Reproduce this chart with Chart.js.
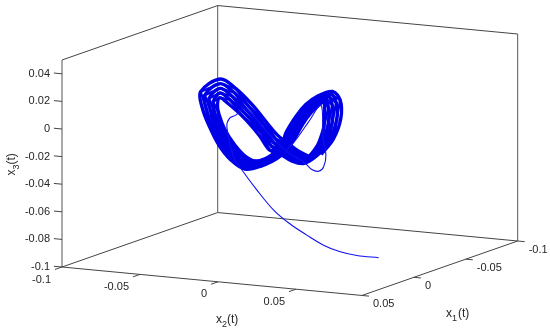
<!DOCTYPE html>
<html><head><meta charset="utf-8">
<style>html,body{margin:0;padding:0;background:#fff}canvas{display:block}</style>
<script src="https://cdn.jsdelivr.net/npm/chart.js@4"></script>
</head><body><canvas id="c" width="550" height="332"></canvas>
<script>
// Axis limits and ticks
const x1Limits = [-0.1, 0.05];
const x2Limits = [-0.1, 0.0923];
const x3Limits = [-0.1, 0.05];
const x1Ticks = [-0.1, -0.05, 0, 0.05];
const x2Ticks = [-0.1, -0.05, 0, 0.05];
const x3Ticks = [-0.1, -0.08, -0.06, -0.04, -0.02, 0, 0.02, 0.04];
const x1TickLabels = ['-0.1', '-0.05', '0', '0.05'];
const x2TickLabels = ['-0.1', '-0.05', '0', '0.05'];
const x3TickLabels = ['-0.1', '-0.08', '-0.06', '-0.04', '-0.02', '0', '0.02', '0.04'];

// Values, in units of 1e-4. A single view gives only two
// coordinates, so depth x1 is taken as one plane.
const UNIT = 1e-4;
const x1Plane = 0;
const transientX2 = [697,558,451,344,237,130,24,-83,-179,-233,-276,-259,-218,-158,-19,98,227,269,312,344,359,340,327,248,173,109];
const transientX3 = [-882,-881,-866,-829,-768,-699,-609,-476,-341,-250,-37,25,53,108,-46,-167,-250,-289,-297,-262,-176,-45,183,54,-74,-166];
const attractorX2 = [
 245,179,114,50,-24,-112,-218,-318,-444,-434,-391,-327,-252,-160,-56,58,137,211,265,321,345,350,347,313,285,
 238,168,101,37,-35,-127,-231,-319,-417,-407,-366,-302,-227,-142,-43,62,128,200,256,317,359,375,374,336,296,
 232,157,88,24,-46,-142,-244,-320,-390,-380,-340,-276,-201,-124,-30,66,120,190,248,312,373,400,400,360,306,
 226,147,75,11,-56,-157,-257,-321,-363,-354,-314,-250,-175,-106,-17,71,111,179,239,308,387,425,428,384,317,
 219,136,62,-2,-67,-172,-270,-322,-336,-327,-289,-225,-150,-88,-4,75,102,168,230,304,401,450,455,407,328
];
const attractorX3 = [
 -194,-163,-114,-65,25,138,245,304,198,85,-40,-176,-274,-332,-299,-222,-117,34,124,190,217,147,36,-92,-147,
 -208,-182,-135,-93,-1,115,217,270,177,76,-45,-173,-267,-315,-280,-202,-98,47,137,204,236,169,53,-82,-154,
 -222,-200,-156,-121,-28,91,189,236,156,67,-50,-170,-259,-299,-261,-182,-80,60,151,218,254,191,70,-72,-160,
 -235,-220,-176,-149,-54,68,161,202,134,58,-54,-167,-251,-283,-242,-163,-62,74,165,232,272,213,88,-63,-167,
 -249,-239,-197,-177,-80,45,133,168,113,49,-59,-164,-244,-266,-223,-143,-43,87,178,246,291,235,105,-53,-174
];
// Turns that wander across the band between the main ones
const crossingX2 = [
 245,168,114,37,-24,-127,-218,-319,-444,-407,-391,-302,-252,-142,-56,62,137,200,265,317,345,375,347,336,285,
 238,157,101,24,-35,-142,-231,-320,-417,-380,-366,-276,-227,-124,-43,66,128,190,256,312,359,400,374,360,296,
 232,147,88,11,-46,-157,-244,-321,-390,-354,-340,-250,-201,-106,-30,71,120,179,248,308,373,425,400,384,306,
 226,136,75,-2,-56,-172,-257,-322,-363,-327,-314,-225,-175,-88,-17,75,111,168,239,304,387,450,428,407,317
];
const crossingX3 = [
 -194,-182,-114,-93,25,115,245,270,198,76,-40,-173,-274,-315,-299,-202,-117,47,124,204,217,169,36,-82,-147,
 -208,-200,-135,-121,-1,91,217,236,177,67,-45,-170,-267,-299,-280,-182,-98,60,137,218,236,191,53,-72,-154,
 -222,-220,-156,-149,-28,68,189,202,156,58,-50,-167,-259,-283,-261,-163,-80,74,151,232,254,213,70,-63,-160,
 -235,-239,-176,-177,-54,45,161,168,134,49,-54,-164,-251,-266,-242,-143,-62,87,165,246,272,235,88,-53,-167
];

// View: orthographic projection of (x1, x2, x3) onto the picture plane
function project(x1, x2, x3) {
  const a = x2 - x2Limits[0], b = x1Limits[1] - x1, c = x3 - x3Limits[0];
  return { x: 62 + 1560 * a + 1038 * b, y: 267 + 148 * a - 363 * b - 1380 * c };
}
const seg = (p, q) => [project(...p), project(...q), { x: null, y: null }];
const [a0, a1] = x1Limits, [b0, b1] = x2Limits, [c0, c1] = x3Limits;

const darkEdges = [
  ...seg([a1,b0,c0],[a1,b1,c0]), ...seg([a1,b1,c0],[a0,b1,c0]),
  ...seg([a1,b0,c0],[a0,b0,c0]), ...seg([a0,b0,c0],[a0,b1,c0]),
  ...seg([a1,b0,c1],[a0,b0,c1]), ...seg([a0,b0,c1],[a0,b1,c1])
];
const greyEdges = [
  ...seg([a1,b0,c0],[a1,b0,c1]), ...seg([a0,b0,c0],[a0,b0,c1]), ...seg([a0,b1,c0],[a0,b1,c1])
];
const tickMarks = [
  ...x1Ticks.flatMap(t => seg([t,b1,c0],[t,b1+0.0045,c0])),
  ...x2Ticks.flatMap(t => seg([a1,t,c0],[a1+0.0068,t,c0])),
  ...x3Ticks.flatMap(t => seg([a1,b0,t],[a1,b0-0.0052,t]))
];
const toView = (xs, zs) => xs.map((v, i) => project(x1Plane, v * UNIT, zs[i] * UNIT));
const tr = toView(transientX2, transientX3);
const at = toView(attractorX2, attractorX3);
const cr = toView(crossingX2, crossingX3);

const textPlugin = {
  id: 'axisText',
  afterDatasetsDraw(chart) {
    const { ctx, scales: { x, y } } = chart;
    const px = p => [x.getPixelForValue(p.x), y.getPixelForValue(p.y)];
    ctx.save();
    ctx.fillStyle = '#262626';
    ctx.textBaseline = 'middle';
    ctx.font = '11px "Liberation Sans"';
    ctx.textAlign = 'right';
    x3Ticks.forEach((t, i) => { const [u, v] = px(project(a1, b0, t)); ctx.fillText(x3TickLabels[i], u - 12, v); });
    x2Ticks.forEach((t, i) => { const [u, v] = px(project(a1, t, c0)); ctx.fillText(x2TickLabels[i], u - 11, v + 12.5); });
    ctx.textAlign = 'left';
    x1Ticks.forEach((t, i) => { const [u, v] = px(project(t, b1, c0)); ctx.fillText(x1TickLabels[i], u + 11, v + 9); });
    const title = (sub, u, v, gap) => {
      ctx.font = '12px "Liberation Sans"';
      ctx.fillText('x', u, v);
      const w = ctx.measureText('x').width;
      ctx.font = '9px "Liberation Sans"';
      ctx.fillText(sub, u + w, v + 5);
      const s = ctx.measureText(sub).width;
      ctx.font = '12px "Liberation Sans"';
      ctx.fillText('(t)', u + w + s + gap, v);
    };
    const p2 = px(project(a1, 0, c0)), p1 = px(project(0, b1, c0)), p3 = px(project(a1, b0, -0.02));
    title('2', p2[0] - 2, p2[1] + 37.5, 0);
    title('1', p1[0] + 32, p1[1] + 36, 1);
    ctx.translate(p3[0] - 50, p3[1] + 19);
    ctx.rotate(-Math.PI / 2);
    title('3', 0, 0, 0);
    ctx.restore();
  }
};

new Chart(document.getElementById('c'), {
  type: 'scatter',
  data: { datasets: [
    { data: tr, showLine: true, borderColor: '#1010f0', borderWidth: 1.1, pointRadius: 0, tension: 0.35 },
    { data: cr, showLine: true, borderColor: '#0000e6', borderWidth: 2.4, pointRadius: 0, tension: 0 },
    { data: at, showLine: true, borderColor: '#0000e6', borderWidth: 3.4, pointRadius: 0, tension: 0.35 },
    { data: tickMarks, showLine: true, borderColor: '#444', borderWidth: 1, pointRadius: 0, spanGaps: false },
    { data: darkEdges, showLine: true, borderColor: '#444', borderWidth: 1, pointRadius: 0, spanGaps: false },
    { data: greyEdges, showLine: true, borderColor: '#555', borderWidth: 1, pointRadius: 0, spanGaps: false }
  ] },
  options: {
    responsive: false, animation: false,
    layout: { padding: 0 },
    plugins: { legend: { display: false }, tooltip: { enabled: false } },
    scales: {
      x: { type: 'linear', display: false, min: 0, max: 550 },
      y: { type: 'linear', display: false, min: 0, max: 332, reverse: true }
    }
  },
  plugins: [textPlugin]
});
</script></body></html>
